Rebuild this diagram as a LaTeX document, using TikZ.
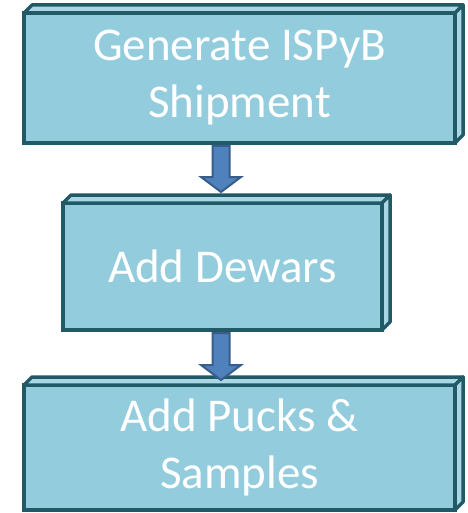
\documentclass[tikz,border=0pt]{standalone}
\usepackage{fontspec}
\setmainfont{Carlito}
\usetikzlibrary{calc}
\definecolor{boxfill}{HTML}{93CDDD}
\definecolor{boxface}{HTML}{A9D8E4}
\definecolor{boxline}{HTML}{215967}
\definecolor{arrfill}{HTML}{4F81BD}
\definecolor{arrline}{HTML}{385D8A}
\tikzset{
  front/.style={rectangle, draw=boxline, fill=boxfill, line width=3.5pt, inner sep=0pt, outer sep=0pt,
    text=white, align=center, font=\fontsize{47}{57}\selectfont},
  bevel/.style={draw=boxline, fill=boxface, line width=3.5pt, line join=round},
  blockarr/.style={draw=arrline, fill=arrfill, line width=2pt, line join=miter}
}
\newcommand{\bevelbox}[1]{%
  \draw[bevel] (#1.north west) -- ++(8,-8) -- ($(#1.north east)+(8,-8)$) -- (#1.north east) -- cycle;
  \draw[bevel] (#1.north east) -- ++(8,-8) -- ($(#1.south east)+(8,-8)$) -- (#1.south east) -- cycle;
}
\newcommand{\blockarrow}[2]{%
  \draw[blockarr] ($(#1)+(-8.5,0)$) -- ($(#2)+(-8.5,-15)$) -- ($(#2)+(-20,-15)$) -- (#2)
    -- ($(#2)+(20,-15)$) -- ($(#2)+(8.5,-15)$) -- ($(#1)+(8.5,0)$) -- cycle;
}
\begin{document}
\begin{tikzpicture}[x=1pt,y=-1pt]
\useasboundingbox (0,0) rectangle (467,513);
\node[front, minimum width=431pt, minimum height=130pt] (b1) at (239.5,78) {Generate ISPyB\\Shipment};
\node[front, minimum width=319pt, minimum height=127pt] (b2) at (222.5,266.5) {Add Dewars};
\node[front, minimum width=431pt, minimum height=125pt] (b3) at (239.5,447.5) {Add Pucks \&\\Samples};
\bevelbox{b1}
\bevelbox{b2}
\bevelbox{b3}
\coordinate (s1) at ($(b1.south -| b2.north)+(-1.5,3)$);
\coordinate (t1) at ($(b2.north)+(-1.5,-11)$);
\coordinate (s2) at ($(b2.south)+(-1.5,3)$);
\coordinate (t2) at ($(b2.south)+(-1.5,50)$);
\blockarrow{s1}{t1}
\blockarrow{s2}{t2}
\end{tikzpicture}
\end{document}
